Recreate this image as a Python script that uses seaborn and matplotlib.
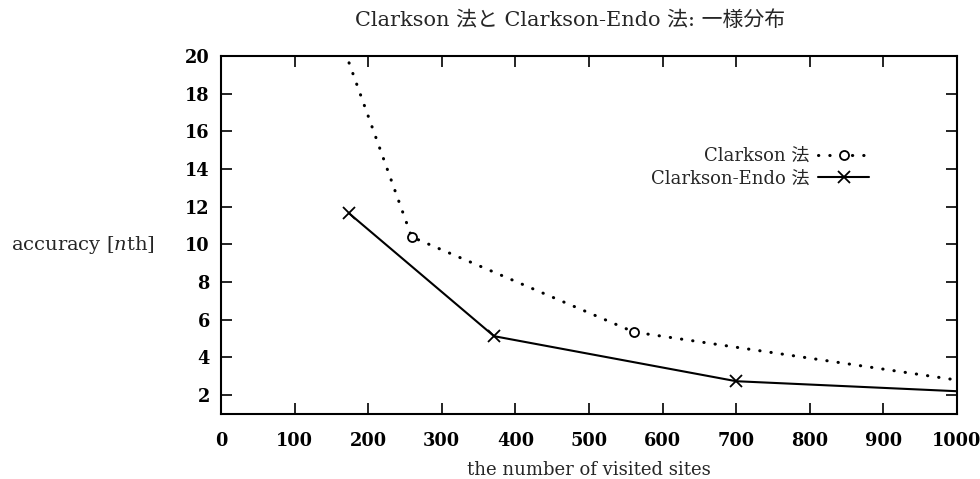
import matplotlib
matplotlib.use("Agg")
import matplotlib.pyplot as plt
import seaborn as sns
import pandas as pd

# Data
clarkson_x = [120, 259, 561, 1150]
clarkson_y = [25.5, 10.4, 5.35, 1.93]
endo_x = [174, 371, 700, 1400]
endo_y = [11.65, 5.13, 2.74, 1.5]
series_names = ["Clarkson 法", "Clarkson-Endo 法"]
x_ticks = [0, 100, 200, 300, 400, 500, 600, 700, 800, 900, 1000]
y_ticks = [2, 4, 6, 8, 10, 12, 14, 16, 18, 20]

sns.set_theme(style="ticks")
plt.rcParams["font.family"] = ["DejaVu Serif", "Noto Sans CJK JP"]
plt.rcParams["mathtext.fontset"] = "dejavuserif"
plt.rcParams["axes.unicode_minus"] = False

df_c = pd.DataFrame({"x": clarkson_x, "y": clarkson_y})
df_e = pd.DataFrame({"x": endo_x, "y": endo_y})

fig = plt.figure(figsize=(9.8, 4.79), dpi=100)
ax = fig.add_axes([221 / 980, 1 - 414 / 479, 736 / 980, 358 / 479])

sns.lineplot(data=df_c, x="x", y="y", ax=ax, sort=False, estimator=None,
             color="black", linewidth=2.2, linestyle=(0, (0.1, 3.6)),
             dash_capstyle="round", marker="o", markersize=6.5,
             markerfacecolor="white", markeredgecolor="black",
             markeredgewidth=1.3, label=series_names[0])
sns.lineplot(data=df_e, x="x", y="y", ax=ax, sort=False, estimator=None,
             color="black", linewidth=1.5, marker="x", markersize=9,
             markeredgecolor="black", markeredgewidth=1.3,
             label=series_names[1])

ax.set_xlim(0, 1000)
ax.set_ylim(1, 20)
ax.set_xticks(x_ticks)
ax.set_yticks(y_ticks)
ax.tick_params(direction="in", length=8, width=1.2, top=True, right=True,
               labelsize=12.8, colors="black")
ax.tick_params(axis="x", pad=13)
ax.tick_params(axis="y", pad=8)
for lab in ax.get_xticklabels() + ax.get_yticklabels():
    lab.set_fontweight("bold")
for sp in ax.spines.values():
    sp.set_visible(True)
    sp.set_linewidth(1.5)
    sp.set_color("black")

ax.set_xlabel("the number of visited sites", fontsize=13)
ax.xaxis.set_label_coords(0.5, (414 - 470) / 358)
ax.xaxis.label.set_va("center")
ax.set_ylabel("accuracy [$n$th]", fontsize=14, rotation=0, ha="right", va="center")
ax.yaxis.set_label_coords((155 - 221) / 736, (414 - 245) / 358)

fig.text(570 / 980, 1 - 20 / 479, "Clarkson 法と Clarkson-Endo 法: 一様分布",
         ha="center", va="center", fontsize=15)

leg = ax.legend(loc="upper right", bbox_to_anchor=((878 - 221) / 736, (414 - 138) / 358),
                frameon=False, markerfirst=False, fontsize=13, handlelength=2.8,
                borderpad=0, labelspacing=0.25, handletextpad=0.5)

fig.savefig("out.png", dpi=100, facecolor="white")
